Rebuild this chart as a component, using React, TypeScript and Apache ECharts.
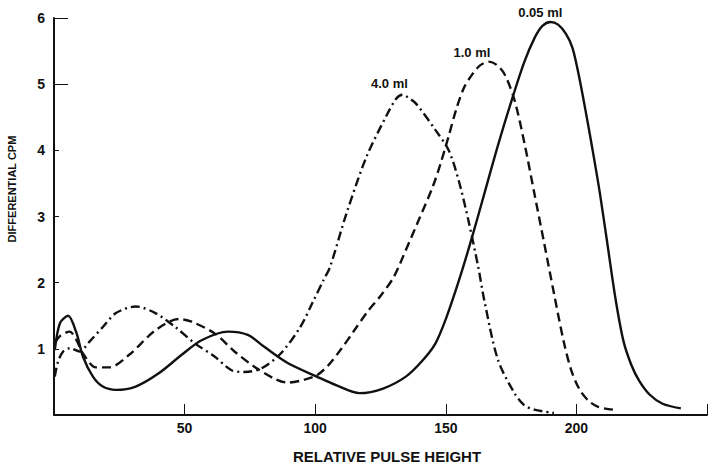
import React, { useEffect, useRef } from "react";
import * as echarts from "echarts";

// Relative pulse height (x) against differential CPM (y) for three sample volumes.
const volumeLabels = ["0.05 ml", "1.0 ml", "4.0 ml"];
const xTickValues = [50, 100, 150, 200];
const yTickValues = [1, 2, 3, 4, 5, 6];

const curve005ml: [number, number][] = [
  [0.3, 0.98], [2.3, 1.39], [5.4, 1.5], [8.6, 1.24], [11.1, 0.88], [14.9, 0.58],
  [18.7, 0.43], [23.7, 0.38], [31.3, 0.43], [40.1, 0.63], [48.9, 0.91], [56.5, 1.13],
  [66.6, 1.26], [74.2, 1.21], [80.5, 1.03], [89.3, 0.79], [100.6, 0.58], [108, 0.45],
  [117, 0.33], [126, 0.4], [134.7, 0.58], [141, 0.82], [146, 1.08], [150, 1.45],
  [155, 2.03], [160, 2.68], [165, 3.38], [170, 4.08], [175, 4.73], [180, 5.33],
  [184, 5.7], [187, 5.88], [190, 5.94], [193, 5.9], [196, 5.76], [198.5, 5.55],
  [201, 5.12], [203.5, 4.6], [206, 4.05], [209, 3.35], [212, 2.55], [215, 1.75],
  [218, 1.12], [221, 0.76], [224, 0.52], [228, 0.31], [233, 0.17], [240, 0.1],
];

const curve1ml: [number, number][] = [
  [0.5, 1.1], [2.5, 1.2], [6, 1.26], [8.5, 1.14], [11.1, 0.93], [16.1, 0.72],
  [21.2, 0.72], [28.8, 0.91], [38.8, 1.28], [47.7, 1.45], [52.7, 1.41], [61.6, 1.23],
  [69.1, 0.96], [76.7, 0.73], [84.3, 0.55], [89.3, 0.49], [95.6, 0.53], [100.6, 0.6],
  [105, 0.75], [110, 1.0], [115, 1.28], [120, 1.56], [125, 1.8], [130, 2.08],
  [135, 2.52], [140, 2.98], [145, 3.45], [148, 3.8], [151, 4.2], [154, 4.62],
  [157, 4.95], [160, 5.14], [163, 5.28], [166.5, 5.34], [169.5, 5.29], [172.5, 5.15],
  [176.3, 4.76], [180.1, 4.11], [183.9, 3.35], [187.7, 2.59], [191.4, 1.84], [195.2, 1.1],
  [198, 0.68], [201, 0.4], [204.5, 0.22], [208.5, 0.12], [214.1, 0.08],
];

const curve4ml: [number, number][] = [
  [0.3, 0.58], [1.5, 0.8], [3.5, 0.96], [6.1, 1.01], [9.8, 0.96], [13.6, 1.11],
  [18.7, 1.33], [23.7, 1.54], [31.3, 1.64], [38.8, 1.54], [46.4, 1.33], [54, 1.08],
  [61.6, 0.88], [67.8, 0.68], [72.9, 0.65], [79.2, 0.7], [86.8, 0.93], [94.3, 1.33],
  [99, 1.7], [103.2, 2.04], [105.7, 2.24], [112, 3.05], [119.6, 3.9], [127.1, 4.51],
  [131, 4.78], [133.4, 4.84], [135.5, 4.8], [138.5, 4.71], [146, 4.31], [151.1, 4.0],
  [154.9, 3.55], [158.6, 2.95], [162.4, 2.24], [164.9, 1.7], [170, 0.83], [176.3, 0.33],
  [180, 0.15], [183.9, 0.08], [191.4, 0.03],
];

const INK = "#111";
const FONT = "'Liberation Sans', Arial, Helvetica, sans-serif";

function curveSeries(
  name: string,
  data: [number, number][],
  dash: "solid" | number[],
  labelOffset: [number, number]
) {
  return {
    name,
    type: "line",
    data,
    smooth: 0.3,
    showSymbol: false,
    symbol: "none",
    lineStyle: { color: INK, width: 2.4, type: dash, cap: "butt" },
    markPoint: {
      symbol: "circle",
      symbolSize: 1,
      itemStyle: { color: "transparent" },
      data: [{ type: "max", valueDim: "y" }],
      label: {
        show: true,
        position: "inside",
        offset: labelOffset,
        formatter: name,
        color: INK,
        fontFamily: FONT,
        fontWeight: "bold",
        fontSize: 13,
      },
    },
  };
}

export default function App() {
  const ref = useRef<HTMLDivElement>(null);

  useEffect(() => {
    document.body.style.margin = "0";
    if (!ref.current) return;
    const chart = echarts.init(ref.current, null, { renderer: "svg" });

    chart.setOption({
      animation: false,
      backgroundColor: "#fff",
      grid: { left: 54, top: 18, width: 661, height: 397, containLabel: false },
      xAxis: {
        type: "value",
        min: 0,
        max: 250,
        interval: 50,
        axisLine: { show: true, lineStyle: { color: INK, width: 2 } },
        axisTick: { show: true, inside: true, length: 11, lineStyle: { color: INK, width: 1 } },
        splitLine: { show: false },
        axisLabel: {
          margin: 6,
          color: INK,
          fontFamily: FONT,
          fontWeight: "bold",
          fontSize: 14,
          formatter: (v: number) => (xTickValues.includes(v) ? String(v) : ""),
        },
      },
      yAxis: [
        {
          type: "value",
          min: 0,
          max: 6,
          interval: 1,
          axisLine: { show: true, lineStyle: { color: INK, width: 2 } },
          axisTick: { show: true, inside: true, length: 5, lineStyle: { color: INK, width: 1 } },
          splitLine: { show: false },
          axisLabel: {
            margin: 9,
            color: INK,
            fontFamily: FONT,
            fontWeight: "bold",
            fontSize: 14,
            formatter: (v: number) => (yTickValues.includes(v) ? String(v) : ""),
          },
        },
        {
          // longer ticks at the top of the scale
          type: "value",
          position: "left",
          min: 0,
          max: 6,
          interval: 1,
          axisLine: { show: false },
          axisLabel: { show: false },
          splitLine: { show: false },
          axisTick: {
            show: true,
            inside: true,
            length: 14,
            customValues: [5, 6],
            lineStyle: { color: INK, width: 1 },
          },
        },
      ],
      graphic: [
        {
          type: "text",
          x: 387,
          y: 456,
          style: {
            text: "RELATIVE PULSE HEIGHT",
            fill: INK,
            font: `bold 15px ${FONT}`,
            textAlign: "center",
            textVerticalAlign: "middle",
          },
        },
        {
          type: "text",
          x: 12,
          y: 189,
          rotation: Math.PI / 2,
          style: {
            text: "DIFFERENTIAL CPM",
            fill: INK,
            font: `bold 11px ${FONT}`,
            textAlign: "center",
            textVerticalAlign: "middle",
          },
        },
      ],
      series: [
        curveSeries(volumeLabels[0], curve005ml, "solid", [-10, -9]),
        curveSeries(volumeLabels[1], curve1ml, [9, 5], [-17, -9]),
        curveSeries(volumeLabels[2], curve4ml, [9, 4, 2, 4], [-13, -11]),
      ],
    });

    return () => chart.dispose();
  }, []);

  return <div ref={ref} style={{ width: 710, height: 467 }} />;
}
